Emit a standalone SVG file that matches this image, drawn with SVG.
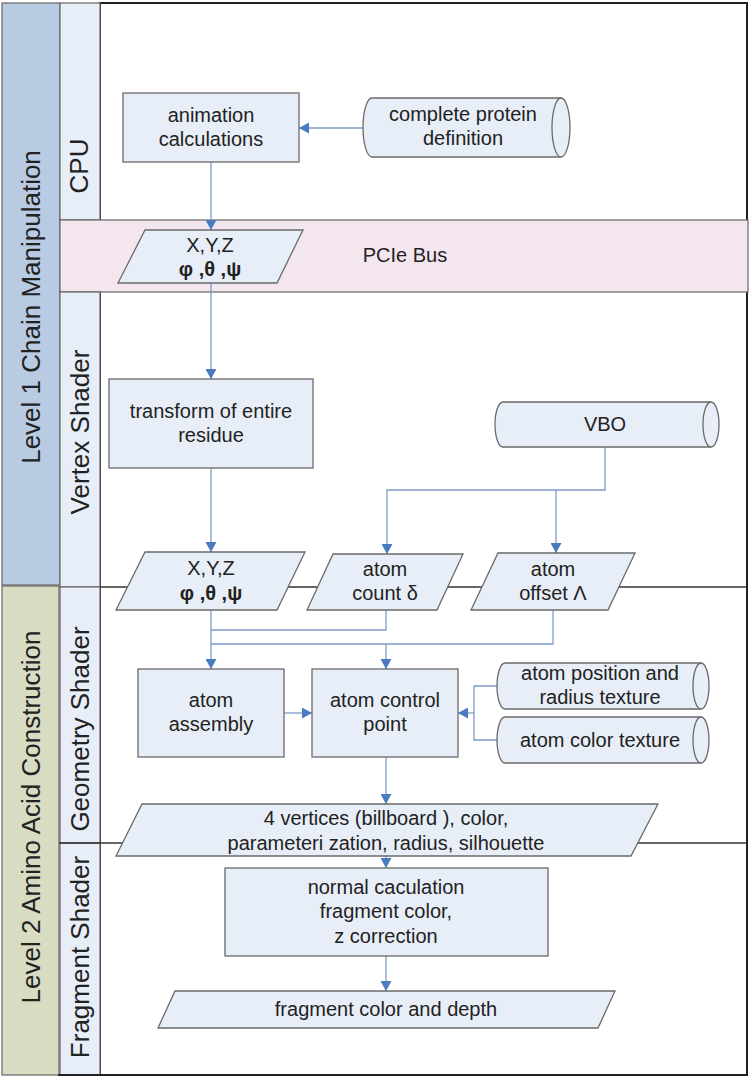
<svg xmlns="http://www.w3.org/2000/svg" width="752" height="1080" viewBox="0 0 752 1080">
<defs>
<style>
.lane1{fill:#b8cbe3;stroke:#666;stroke-width:1.2}
.lane2{fill:#d8dcc3;stroke:#666;stroke-width:1.2}
.sub{fill:#e8eef8;stroke:#666;stroke-width:1.2}
.bus{fill:#f4e6ef;stroke:#666;stroke-width:1.2}
.node{fill:#e8eef7;stroke:#6a6a6a;stroke-width:1.3}
.sep{stroke:#333;stroke-width:1.3;fill:none}
.conn{stroke:#7f9cc6;stroke-width:1.3;fill:none}
.t{font-family:"Liberation Sans",Arial,sans-serif;font-size:20px;fill:#222;text-anchor:middle}
.b{font-weight:bold}
.lt{font-family:"Liberation Sans",Arial,sans-serif;font-size:26px;fill:#222;text-anchor:middle;dominant-baseline:central}
</style>
<marker id="arr" markerUnits="userSpaceOnUse" markerWidth="11" markerHeight="11" refX="10" refY="5.5" orient="auto">
<path d="M0,0 L10,5.5 L0,11 z" fill="#4a7bbf"/>
</marker>
</defs>

<g id="lanes">
<rect x="100" y="3" width="647" height="1072" fill="#fff" stroke="#222" stroke-width="2"/>
<rect class="lane1" x="2" y="3" width="58" height="582"/>
<rect class="lane2" x="2" y="586" width="57" height="489"/>
<rect class="sub" x="60" y="3" width="40" height="217"/>
<rect class="bus" x="60" y="220" width="688" height="72"/>
<rect class="sub" x="60" y="292" width="40" height="295"/>
<rect class="sub" x="60" y="587" width="40" height="256"/>
<rect class="sub" x="60" y="843" width="40" height="232"/>
<line class="sep" x1="100" y1="587" x2="747" y2="587"/>
<line class="sep" x1="59" y1="843" x2="747" y2="843"/>
<line x1="58" y1="1075" x2="748" y2="1075" stroke="#222" stroke-width="2"/>
<text class="lt" transform="translate(31,307) rotate(-90)">Level 1 Chain Manipulation</text>
<text class="lt" transform="translate(31,817) rotate(-90)">Level 2 Amino Acid Construction</text>
<text class="lt" transform="translate(79,166) rotate(-90)">CPU</text>
<text class="lt" transform="translate(80,432) rotate(-90)">Vertex Shader</text>
<text class="lt" transform="translate(80,729) rotate(-90)">Geometry Shader</text>
<text class="lt" transform="translate(80,957) rotate(-90)">Fragment Shader</text>
<text class="t" x="405" y="262">PCIe Bus</text>
</g>

<g id="connectors">
<path class="conn" d="M363,128 H299" marker-end="url(#arr)"/>
<path class="conn" d="M211,162 V230" marker-end="url(#arr)"/>
<path class="conn" d="M211,283 V379" marker-end="url(#arr)"/>
<path class="conn" d="M211,468 V552" marker-end="url(#arr)"/>
<path class="conn" d="M605,447 V490 H387 V554" marker-end="url(#arr)"/>
<path class="conn" d="M556,490 V553" marker-end="url(#arr)"/>
<path class="conn" d="M386,610 V630 H211"/>
<path class="conn" d="M553,610 V644 H211"/>
<path class="conn" d="M211,610 V669" marker-end="url(#arr)"/>
<path class="conn" d="M386,644 V669" marker-end="url(#arr)"/>
<path class="conn" d="M284,713 H312" marker-end="url(#arr)"/>
<path class="conn" d="M497,686 H474 V740 H497"/>
<path class="conn" d="M474,713 H458" marker-end="url(#arr)"/>
<path class="conn" d="M386,757 V804" marker-end="url(#arr)"/>
<path class="conn" d="M386,856 V868" marker-end="url(#arr)"/>
<path class="conn" d="M386,956 V991" marker-end="url(#arr)"/>
</g>

<g id="animation">
<rect class="node" x="123" y="93" width="176" height="69"/>
<text class="t" x="211" y="122">animation</text>
<text class="t" x="211" y="146">calculations</text>
</g>

<g id="protein">
<path class="node" d="M372,98 H561 A9,29.5 0 0 1 561,157 H372 A9,29.5 0 0 1 372,98 Z"/>
<path class="node" fill="none" d="M561,98 A9,29.5 0 0 0 561,157"/>
<text class="t" x="463" y="121">complete protein</text>
<text class="t" x="463" y="145">definition</text>
</g>

<g id="xyz1">
<path class="node" d="M145,230 H303 L277,283 H118 Z"/>
<text class="t" x="210" y="252">X,Y,Z</text>
<text class="t b" x="210" y="276">φ ,θ ,ψ</text>
</g>

<g id="transform">
<rect class="node" x="109" y="379" width="204" height="89"/>
<text class="t" x="211" y="418">transform of entire</text>
<text class="t" x="211" y="442">residue</text>
</g>

<g id="vbo">
<path class="node" d="M503,402 H711 A8,22.5 0 0 1 711,447 H503 A8,22.5 0 0 1 503,402 Z"/>
<path class="node" fill="none" d="M711,402 A8,22.5 0 0 0 711,447"/>
<text class="t" x="605" y="431">VBO</text>
</g>

<g id="xyz2">
<path class="node" d="M145,552 H305 L277,610 H116 Z"/>
<text class="t" x="211" y="575">X,Y,Z</text>
<text class="t b" x="211" y="600">φ ,θ ,ψ</text>
</g>

<g id="count">
<path class="node" d="M333,554 H463 L437,610 H307 Z"/>
<text class="t" x="385" y="576">atom</text>
<text class="t" x="385" y="600">count δ</text>
</g>

<g id="offset">
<path class="node" d="M498,553 H635 L608,610 H471 Z"/>
<text class="t" x="553" y="576">atom</text>
<text class="t" x="553" y="600">offset Λ</text>
</g>

<g id="assembly">
<rect class="node" x="138" y="669" width="146" height="88"/>
<text class="t" x="211" y="707">atom</text>
<text class="t" x="211" y="731">assembly</text>
</g>

<g id="control">
<rect class="node" x="312" y="669" width="146" height="88"/>
<text class="t" x="385" y="707">atom control</text>
<text class="t" x="385" y="731">point</text>
</g>

<g id="postex">
<path class="node" d="M505,663 H701 A8,23 0 0 1 701,709 H505 A8,23 0 0 1 505,663 Z"/>
<path class="node" fill="none" d="M701,663 A8,23 0 0 0 701,709"/>
<text class="t" x="600" y="680">atom position and</text>
<text class="t" x="600" y="704">radius texture</text>
</g>

<g id="coltex">
<path class="node" d="M505,717 H701 A8,23 0 0 1 701,763 H505 A8,23 0 0 1 505,717 Z"/>
<path class="node" fill="none" d="M701,717 A8,23 0 0 0 701,763"/>
<text class="t" x="600" y="747">atom color texture</text>
</g>

<g id="vertices">
<path class="node" d="M142,804 H658 L631,856 H116 Z"/>
<text class="t" x="386" y="825">4 vertices (billboard ), color,</text>
<text class="t" x="386" y="850">parameteri zation, radius, silhouette</text>
</g>

<g id="normal">
<rect class="node" x="225" y="868" width="323" height="88"/>
<text class="t" x="386" y="894">normal caculation</text>
<text class="t" x="386" y="918">fragment color,</text>
<text class="t" x="386" y="943">z correction</text>
</g>

<g id="fragout">
<path class="node" d="M175,991 H615 L598,1028 H158 Z"/>
<text class="t" x="386" y="1016">fragment color and depth</text>
</g>
</svg>
